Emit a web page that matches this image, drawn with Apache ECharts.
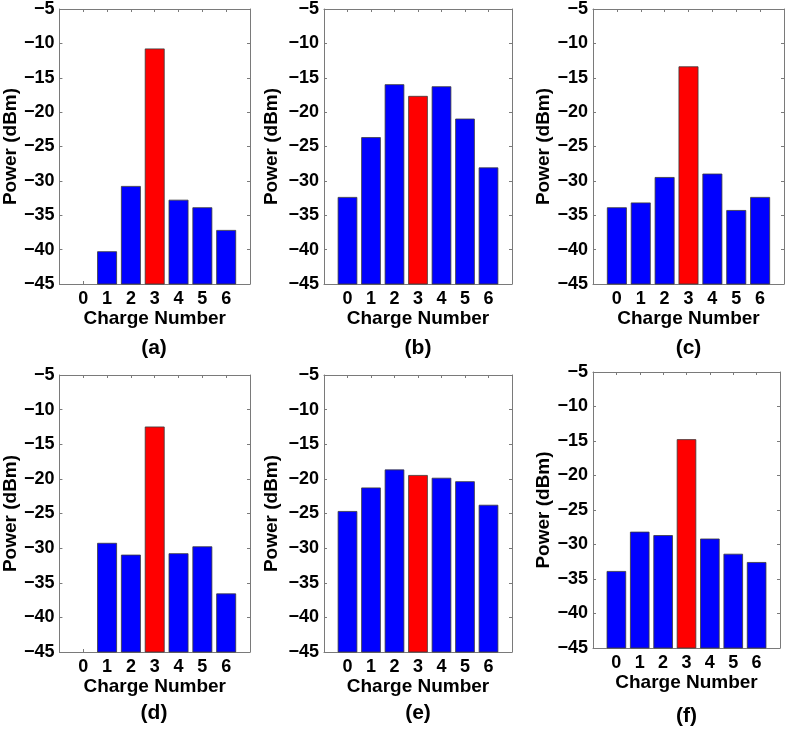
<!DOCTYPE html>
<html>
<head>
<meta charset="utf-8">
<script src="https://cdn.jsdelivr.net/npm/echarts@6/dist/echarts.min.js"></script>
<style>
html,body{margin:0;padding:0;background:#fff;}
#chart{width:787px;height:734px;}
</style>
</head>
<body>
<div id="chart"></div>
<script>
// ---- data ----
const categories = [0, 1, 2, 3, 4, 5, 6];
const categoryLabels = ['0', '1', '2', '3', '4', '5', '6'];
const panelA = [null, -40.3, -30.8, -10.8, -32.8, -33.9, -37.2];
const panelB = [-32.4, -23.7, -16.0, -17.7, -16.3, -21.0, -28.1];
const panelC = [-33.9, -33.2, -29.5, -13.4, -29.0, -34.3, -32.4];
const panelD = [null, -29.3, -31.0, -12.5, -30.8, -29.8, -36.6];
const panelE = [-24.7, -21.3, -18.7, -19.5, -19.9, -20.4, -23.8];
const panelF = [-33.9, -28.2, -28.7, -14.8, -29.2, -31.4, -32.6];
const panelNames = ['(a)', '(b)', '(c)', '(d)', '(e)', '(f)'];
const highlightIndex = 3;
const yMin = -45, yMax = -5, yStep = 5;
const barFraction = 0.8;
const xTitle = 'Charge Number';
const yTitle = 'Power (dBm)';

// ---- layout / style ----
const panels = [panelA, panelB, panelC, panelD, panelE, panelF];
const layouts = [
  {left: 58, top: 8, width: 192, height: 276, nameGap: 38, capY: 348},
  {left: 324, top: 8, width: 188, height: 276, nameGap: 43, capY: 348},
  {left: 593, top: 8, width: 191, height: 276, nameGap: 37, capY: 348},
  {left: 58, top: 375, width: 192, height: 277, nameGap: 38, capY: 713},
  {left: 324, top: 375, width: 188, height: 277, nameGap: 43, capY: 713},
  {left: 593, top: 372, width: 187, height: 276, nameGap: 37, capY: 716}
];
const FONT = "'Liberation Sans', Arial, Helvetica, sans-serif";
const AXIS_COLOR = '#7a7a7a';
const BLUE = '#0000ff', RED = '#ff0000';

const grid = [], xAxis = [], yAxis = [], series = [];

function fmtY(v) { return String(v).replace('-', '\u2212'); }

panels.forEach((vals, i) => {
  const L = layouts[i];
  grid.push({left: L.left, top: L.top, width: L.width, height: L.height, containLabel: false});
  const common = {
    type: 'value', gridIndex: i, min: -1, max: 7, interval: 1,
    splitLine: {show: false},
    axisLine: {show: true, onZero: false, lineStyle: {color: AXIS_COLOR, width: 1}},
    axisTick: {show: true, inside: true, length: 3, lineStyle: {color: AXIS_COLOR}}
  };
  xAxis.push(Object.assign({}, common, {
    position: 'bottom',
    name: xTitle, nameLocation: 'middle', nameGap: 21,
    nameTextStyle: {fontFamily: FONT, fontSize: 19, fontWeight: 'bold', color: '#000'},
    axisLabel: {
      fontFamily: FONT, fontSize: 18, fontWeight: 'bold', color: '#000', margin: 6,
      formatter: v => (v >= 0 && v < categoryLabels.length) ? categoryLabels[v] : ''
    }
  }));
  xAxis.push(Object.assign({}, common, {position: 'top', axisLabel: {show: false}}));
  const ycommon = {
    type: 'value', gridIndex: i, min: yMin, max: yMax, interval: yStep,
    splitLine: {show: false},
    axisLine: {show: true, onZero: false, lineStyle: {color: AXIS_COLOR, width: 1}},
    axisTick: {show: true, inside: true, length: 3, lineStyle: {color: AXIS_COLOR}}
  };
  yAxis.push(Object.assign({}, ycommon, {
    position: 'left',
    name: yTitle, nameLocation: 'middle', nameGap: L.nameGap, nameRotate: 90,
    nameTextStyle: {fontFamily: FONT, fontSize: 19, fontWeight: 'bold', color: '#000'},
    axisLabel: {fontFamily: FONT, fontSize: 18, fontWeight: 'bold', color: '#000', margin: 5, formatter: fmtY}
  }));
  yAxis.push(Object.assign({}, ycommon, {position: 'right', axisLabel: {show: false}}));

  series.push({
    type: 'custom', xAxisIndex: i * 2, yAxisIndex: i * 2,
    coordinateSystem: 'cartesian2d',
    encode: {x: 0, y: 1},
    data: categories.map((c, k) => [c, vals[k] == null ? '-' : vals[k]]),
    renderItem: function (params, api) {
      const x = api.value(0), v = api.value(1);
      if (v == null || isNaN(v)) return null;
      const half = barFraction / 2;
      const pTop = api.coord([x - half, v]);
      const pBot = api.coord([x + half, yMin]);
      return {
        type: 'rect',
        shape: {x: pTop[0], y: pTop[1], width: pBot[0] - pTop[0], height: pBot[1] - pTop[1]},
        style: {
          fill: params.dataIndex === highlightIndex ? RED : BLUE,
          stroke: '#3a3a3a', lineWidth: 0.8
        }
      };
    }
  });
});

const chart = echarts.init(document.getElementById('chart'), null, {renderer: 'canvas'});
chart.setOption({
  animation: false,
  backgroundColor: '#fff',
  grid, xAxis, yAxis, series,
  graphic: panelNames.map((n, i) => {
    const L = layouts[i];
    return {
      type: 'text',
      x: L.left + L.width / 2, y: L.capY,
      style: {
        text: n, font: 'bold 21px ' + FONT, fill: '#000',
        align: 'center', verticalAlign: 'middle'
      }
    };
  })
});
</script>
</body>
</html>
